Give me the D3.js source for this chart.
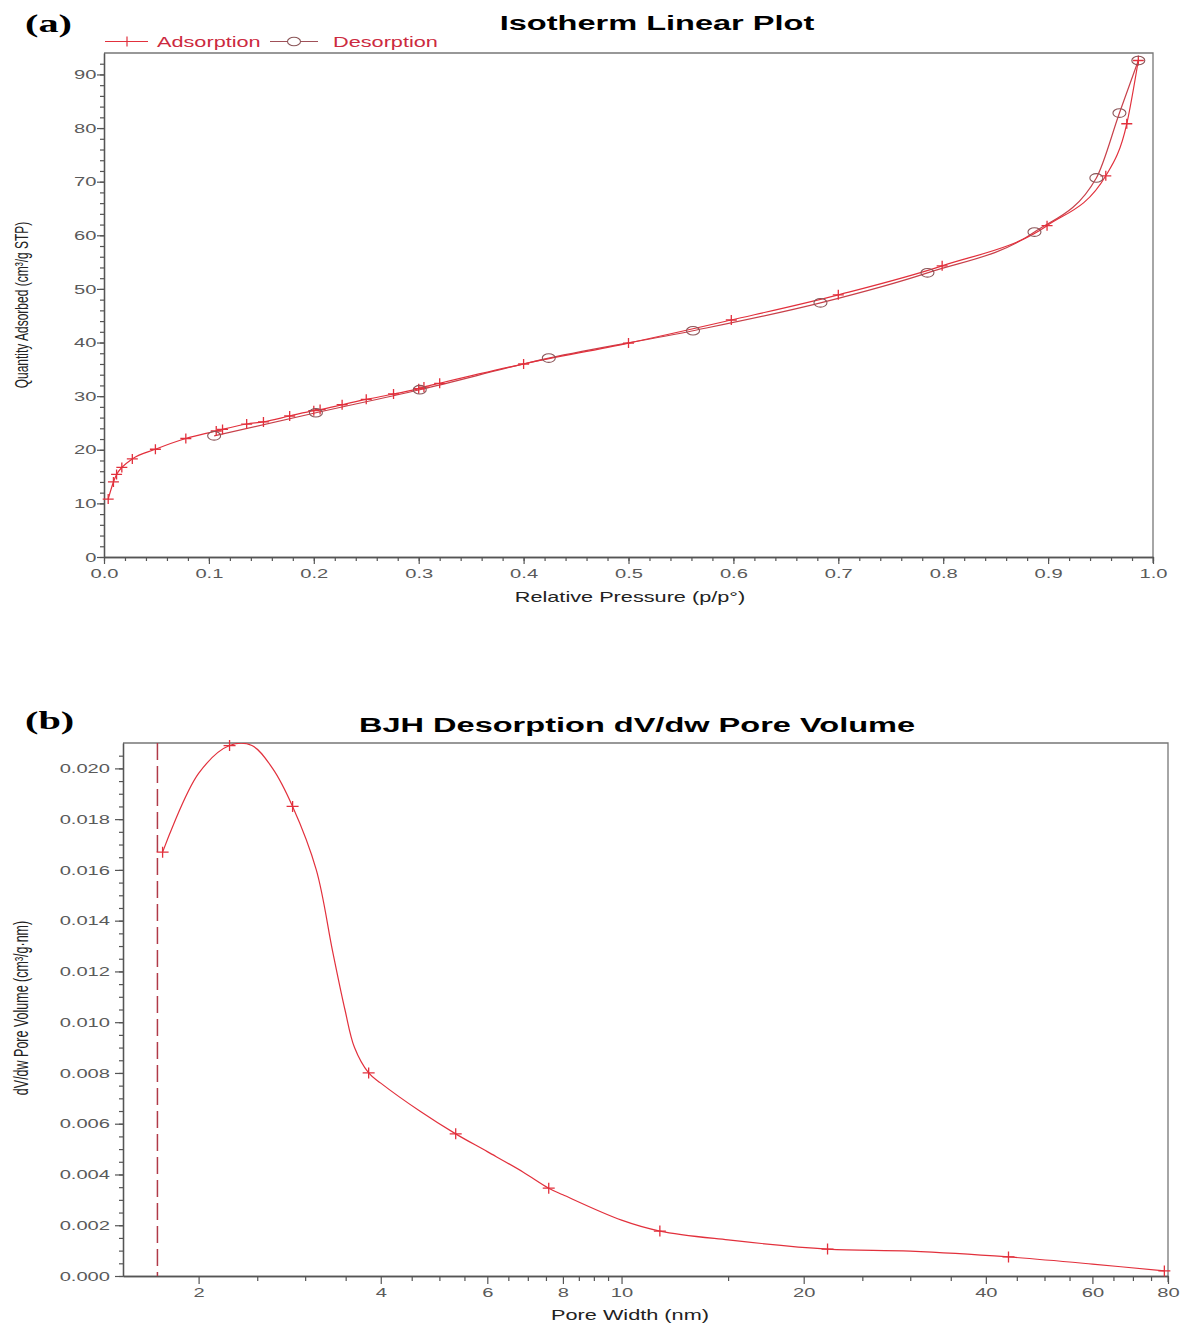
<!DOCTYPE html>
<html><head><meta charset="utf-8">
<script src="https://cdn.jsdelivr.net/npm/d3@7"></script>
<style>body{margin:0;background:#fff}svg{display:block}</style>
</head><body>
<svg id="c" width="1181" height="1325"></svg>
<script>
// ---------- DATA (a) Isotherm ----------
const adsP = [0.004,0.009,0.012,0.017,0.027,0.049,0.078,0.107,0.113,0.136,0.152,0.177,0.200,0.206,0.227,0.250,0.276,0.300,0.305,0.320,0.400,0.500,0.598,0.700,0.799,0.899,0.955,0.975,0.986];
const adsQ = [10.8,14.0,15.4,16.7,18.3,20.1,22.1,23.5,23.8,24.8,25.2,26.3,27.3,27.5,28.4,29.4,30.4,31.4,31.7,32.4,36.0,39.9,44.2,48.9,54.3,61.8,71.1,80.8,92.6];
const desP = [0.986,0.968,0.946,0.887,0.785,0.683,0.5615,0.424,0.301,0.202,0.105];
const desQ = [92.6,82.8,70.7,60.6,53.0,47.4,42.2,37.1,31.2,26.9,22.6];
const isoXTicks = [0,0.1,0.2,0.3,0.4,0.5,0.6,0.7,0.8,0.9,1.0];
const isoYTicks = [0,10,20,30,40,50,60,70,80,90];

// ---------- DATA (b) BJH ----------
const bjhW = [1.744,2.25,2.86,3.82,5.32,7.58,11.57,21.9,43.6,78.9];
const bjhV = [0.0167,0.0209,0.0185,0.0080,0.0056,0.00346,0.00177,0.00106,0.00075,0.0002];
const bjhCurveW = [1.744,2.0,2.25,2.45,2.65,2.86,3.13,3.33,3.49,3.62,3.82,4.0,4.64,5.32,6.0,6.87,7.58,8.0,10.0,11.57,15,21.9,30,43.6,60,78.9];
const bjhCurveV = [0.0167,0.0198,0.0209,0.0209,0.0200,0.0185,0.0160,0.0128,0.0105,0.0090,0.0080,0.0076,0.0065,0.0056,0.0049,0.0041,0.00346,0.0032,0.0022,0.00177,0.00142,0.00106,0.00098,0.00075,0.00047,0.0002];
const bjhXTicks = [2,4,6,8,10,20,40,60,80];
const bjhXMinor = [2.5,3,3.5,4.5,5,5.5,6.5,7,7.5,8.5,9,9.5,15,25,30,35,45,50,55,65,70,75];
const bjhYTicks = [0,0.002,0.004,0.006,0.008,0.010,0.012,0.014,0.016,0.018,0.020];
const bjhCutoff = 1.71;

// ---------- STYLE ----------
const S = 1.55;               // horizontal stretch of the original picture
const FONT = "'Liberation Sans', Arial, sans-serif";
const RED = "#e2303c";
const AXC = "#555";

const svg = d3.select("#c");

function stext(x, y, s, o) {
  o = o || {};
  return svg.append("text")
    .attr("transform", `translate(${x},${y}) scale(${S},1)` + (o.rotate ? ` rotate(${o.rotate})` : ""))
    .attr("text-anchor", o.anchor || "start")
    .attr("font-family", o.family || FONT)
    .attr("font-size", o.size || 14)
    .attr("font-weight", o.weight || "normal")
    .attr("fill", o.fill || "#000")
    .text(s);
}
const plusPath = (w, h) => `M${-w},0H${w}M0,${-h}V${h}`;

function styleAxis(g) {
  g.selectAll("path.domain").attr("stroke", AXC).attr("stroke-width", 1.3);
  g.selectAll(".tick line").attr("stroke", AXC).attr("stroke-width", 1.2);
  g.selectAll(".tick text").attr("font-family", FONT).attr("fill", "#5a5a5a");
}

// ================= (a) =================
const xA = d3.scaleLinear().domain([0, 1]).range([104, 1153]);
const yA = d3.scaleLinear().domain([0, 94]).range([557, 53]);

svg.append("path").attr("d", `M${xA(0)},${yA(94)}H${xA(1)}V${yA(0)+6}`)
  .attr("fill", "none").attr("stroke", "#777").attr("stroke-width", 1.3);

const gxAm = svg.append("g").attr("transform", `translate(0,${yA(0)})`)
  .call(d3.axisBottom(xA).tickValues(d3.range(0, 1.0001, 0.02)).tickSize(4).tickSizeOuter(0).tickFormat(""));
styleAxis(gxAm);
const gxA = svg.append("g").attr("transform", `translate(0,${yA(0)})`)
  .call(d3.axisBottom(xA).tickValues(isoXTicks).tickSize(7).tickPadding(5).tickSizeOuter(0).tickFormat(d3.format(".1f")));
styleAxis(gxA);
gxA.selectAll(".tick text").attr("font-size", 13).attr("transform", `scale(${S},1)`);

const gyAm = svg.append("g").attr("transform", `translate(${xA(0)},0)`)
  .call(d3.axisLeft(yA).tickValues(d3.range(0, 94, 2)).tickSize(4).tickSizeOuter(0).tickFormat(""));
styleAxis(gyAm);
const gyA = svg.append("g").attr("transform", `translate(${xA(0)},0)`)
  .call(d3.axisLeft(yA).tickValues(isoYTicks).tickSize(7).tickSizeOuter(0).tickFormat(d3.format("d")));
styleAxis(gyA);
gyA.selectAll(".tick text").attr("font-size", 13).attr("x", -7.5 / S).attr("transform", `scale(${S},1)`);

const adsData = adsP.map((p, i) => [p, adsQ[i]]);
const desData = desP.map((p, i) => [p, desQ[i]]).sort((a, b) => a[0] - b[0]);
const lineA = d3.line().x(d => xA(d[0])).y(d => yA(d[1])).curve(d3.curveMonotoneX);
svg.append("path").attr("d", lineA(desData)).attr("fill", "none").attr("stroke", "#c8404a").attr("stroke-width", 1.2);
svg.append("path").attr("d", lineA(adsData)).attr("fill", "none").attr("stroke", RED).attr("stroke-width", 1.2);

svg.append("g").selectAll("path").data(adsData).join("path")
  .attr("transform", d => `translate(${xA(d[0])},${yA(d[1])})`)
  .attr("d", plusPath(5.5, 5)).attr("stroke", RED).attr("stroke-width", 1.3).attr("fill", "none");
svg.append("g").selectAll("ellipse").data(desData).join("ellipse")
  .attr("cx", d => xA(d[0])).attr("cy", d => yA(d[1])).attr("rx", 6.5).attr("ry", 4.3)
  .attr("fill", "none").attr("stroke", "#8a5558").attr("stroke-width", 1.1);

// legend
svg.append("line").attr("x1", 105).attr("x2", 148).attr("y1", 41.5).attr("y2", 41.5).attr("stroke", RED).attr("stroke-width", 1.2);
svg.append("path").attr("transform", "translate(127,41.5)").attr("d", plusPath(5.5, 5)).attr("stroke", RED).attr("stroke-width", 1.2);
stext(157, 47, "Adsorption", {size: 14, fill: "#cc2a40"});
svg.append("line").attr("x1", 270).attr("x2", 318).attr("y1", 41.5).attr("y2", 41.5).attr("stroke", "#a05058").attr("stroke-width", 1.2);
svg.append("ellipse").attr("cx", 294).attr("cy", 41.5).attr("rx", 6.5).attr("ry", 4.3).attr("fill", "#fff").attr("stroke", "#8a5558").attr("stroke-width", 1.1);
stext(333, 47, "Desorption", {size: 14, fill: "#cc2a40"});

stext(657, 30, "Isotherm Linear Plot", {size: 21, weight: "bold", anchor: "middle"});
stext(25, 32, "(a)", {size: 26, weight: "bold", family: "'Liberation Serif', 'Times New Roman', serif"});
stext(630, 602, "Relative Pressure (p/p°)", {size: 14, anchor: "middle", fill: "#222"});
stext(28, 305, "Quantity Adsorbed (cm³/g STP)", {size: 12, anchor: "middle", rotate: -90, fill: "#222"});

// ================= (b) =================
const xB = d3.scaleLog().domain([1.5, 80]).range([123, 1168]);
const yB = d3.scaleLinear().domain([0, 0.021]).range([1276, 743]);

svg.append("defs").append("clipPath").attr("id", "clipB").append("rect")
  .attr("x", xB(1.5)).attr("y", yB(0.021)).attr("width", xB(80) - xB(1.5)).attr("height", yB(0) - yB(0.021));

svg.append("path").attr("d", `M${xB(1.5)},${yB(0.021)}H${xB(80)}V${yB(0)+6}`)
  .attr("fill", "none").attr("stroke", "#777").attr("stroke-width", 1.3);

const gxBm = svg.append("g").attr("transform", `translate(0,${yB(0)})`)
  .call(d3.axisBottom(xB).tickValues(bjhXMinor).tickSize(5).tickSizeOuter(0).tickFormat(""));
styleAxis(gxBm);
const gxB = svg.append("g").attr("transform", `translate(0,${yB(0)})`)
  .call(d3.axisBottom(xB).tickValues(bjhXTicks).tickSize(8).tickPadding(4).tickSizeOuter(0).tickFormat(d3.format("d")));
styleAxis(gxB);
gxB.selectAll(".tick text").attr("font-size", 13).attr("transform", `scale(${S},1)`);

const gyBm = svg.append("g").attr("transform", `translate(${xB(1.5)},0)`)
  .call(d3.axisLeft(yB).tickValues(d3.range(0, 0.0209, 0.0005)).tickSize(4).tickSizeOuter(0).tickFormat(""));
styleAxis(gyBm);
const gyB = svg.append("g").attr("transform", `translate(${xB(1.5)},0)`)
  .call(d3.axisLeft(yB).tickValues(bjhYTicks).tickSize(8).tickSizeOuter(0).tickFormat(d3.format(".3f")));
styleAxis(gyB);
gyB.selectAll(".tick text").attr("font-size", 13).attr("x", -13 / S).attr("transform", `scale(${S},1)`);

svg.append("line").attr("x1", xB(bjhCutoff)).attr("x2", xB(bjhCutoff))
  .attr("y1", yB(0.021)).attr("y2", yB(0))
  .attr("stroke", "#b03a48").attr("stroke-width", 1.5).attr("stroke-dasharray", "17,6");

const curveData = bjhCurveW.map((w, i) => [w, bjhCurveV[i]]);
const lineB = d3.line().x(d => xB(d[0])).y(d => yB(d[1])).curve(d3.curveCatmullRom.alpha(0.5));
svg.append("path").attr("clip-path", "url(#clipB)").attr("d", lineB(curveData))
  .attr("fill", "none").attr("stroke", RED).attr("stroke-width", 1.2);
svg.append("g").selectAll("path").data(bjhW.map((w, i) => [w, bjhV[i]])).join("path")
  .attr("transform", d => `translate(${xB(d[0])},${yB(d[1])})`)
  .attr("d", plusPath(6, 5.5)).attr("stroke", RED).attr("stroke-width", 1.3).attr("fill", "none");

stext(637, 732, "BJH Desorption dV/dw Pore Volume", {size: 21, weight: "bold", anchor: "middle"});
stext(25, 729, "(b)", {size: 26, weight: "bold", family: "'Liberation Serif', 'Times New Roman', serif"});
stext(630, 1320, "Pore Width (nm)", {size: 14, anchor: "middle", fill: "#222"});
stext(28, 1008, "dV/dw Pore Volume (cm³/g·nm)", {size: 12.5, anchor: "middle", rotate: -90, fill: "#222"});
</script>
</body></html>
